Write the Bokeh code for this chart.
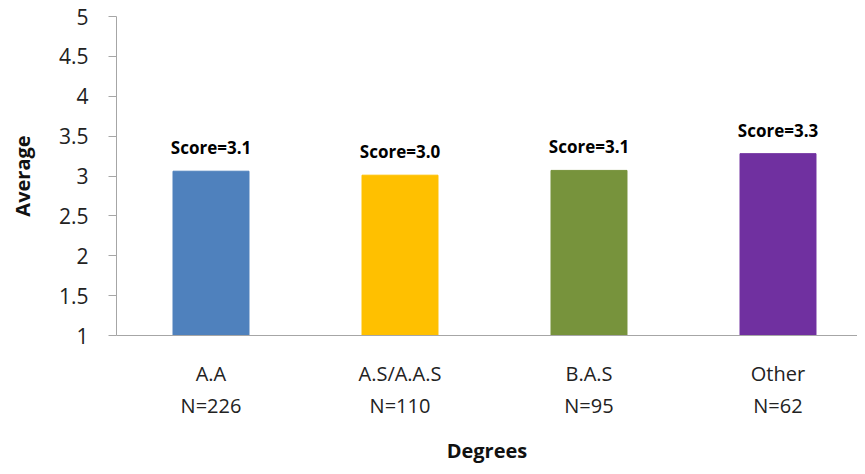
from bokeh.plotting import figure
from bokeh.models import Range1d, FixedTicker, ColumnDataSource
from bokeh.core.properties import value
from bokeh.embed import file_html
from bokeh.resources import INLINE

categories = ["A.A", "A.S/A.A.S", "B.A.S", "Other"]
counts = [226, 110, 95, 62]
averages = [3.06, 3.01, 3.07, 3.28]
colors = ["#4F81BD", "#FFC000", "#77933C", "#7030A0"]
y_ticks = [1, 1.5, 2, 2.5, 3, 3.5, 4, 4.5, 5]

FONT = "Open Sans"
LEFT = 116
WIDTH = 857
SLOT = 189

xs = [i + 0.5 for i in range(len(categories))]
labels = [f"Score={v:.1f}" for v in averages]
src = ColumnDataSource(dict(x=xs, top=averages, color=colors, label=labels))

p = figure(width=WIDTH, height=466, output_backend="svg", toolbar_location=None,
           x_range=Range1d(0, (WIDTH - LEFT) / SLOT), y_range=Range1d(1, 5))
p.min_border_left = LEFT
p.min_border_top = 16
p.min_border_bottom = 110
p.min_border_right = 0
p.outline_line_color = None
p.xgrid.visible = False
p.ygrid.visible = False

p.vbar(x="x", top="top", bottom=1, width=0.402, color="color", source=src)
p.text(x="x", y="top", text="label", source=src, text_align="center",
       text_baseline="bottom", y_offset=-12, text_font=value(FONT),
       text_font_style="bold", text_font_size="17px", text_color="#000000")

p.xaxis.ticker = FixedTicker(ticks=xs)
p.xaxis.major_label_overrides = {x: f"{c}\nN={n}" for x, c, n in zip(xs, categories, counts)}
p.xaxis.major_tick_line_color = None
p.xaxis.minor_tick_line_color = None
p.xaxis.axis_line_color = "#A6A6A6"
p.xaxis.major_label_text_font = FONT
p.xaxis.major_label_text_font_size = "20px"
p.xaxis.major_label_text_color = "#222222"
p.xaxis.major_label_standoff = 18
p.xaxis.axis_label = "Degrees"
p.xaxis.axis_label_text_font = FONT
p.xaxis.axis_label_text_font_style = "bold"
p.xaxis.axis_label_text_font_size = "20px"
p.xaxis.axis_label_text_color = "#111111"
p.xaxis.axis_label_standoff = 15

p.yaxis.ticker = FixedTicker(ticks=y_ticks)
p.yaxis.minor_tick_line_color = None
p.yaxis.axis_line_color = "#A6A6A6"
p.yaxis.major_tick_line_color = "#A6A6A6"
p.yaxis.major_tick_in = 0
p.yaxis.major_tick_out = 8
p.yaxis.major_label_text_font = FONT
p.yaxis.major_label_text_font_size = "21px"
p.yaxis.major_label_text_color = "#222222"
p.yaxis.major_label_standoff = 20
p.yaxis.axis_label = "Average"
p.yaxis.axis_label_text_font = FONT
p.yaxis.axis_label_text_font_style = "bold"
p.yaxis.axis_label_text_font_size = "20px"
p.yaxis.axis_label_text_color = "#111111"
p.yaxis.axis_label_standoff = 20

open("out.html", "w").write(file_html(p, INLINE))
